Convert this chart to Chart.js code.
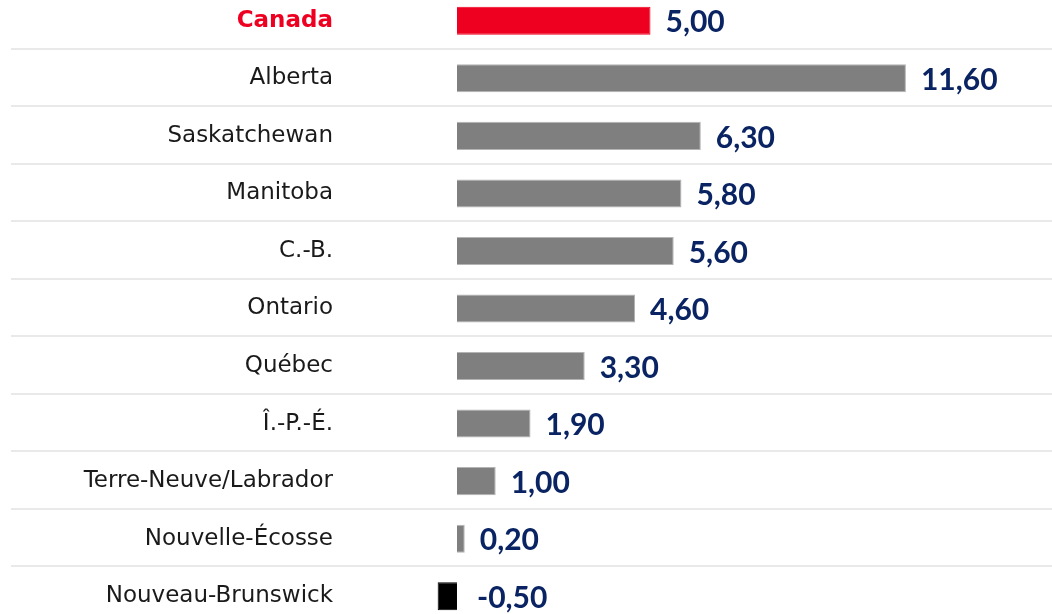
<!DOCTYPE html>
<html>
<head>
<meta charset="utf-8">
<script src="https://cdn.jsdelivr.net/npm/chart.js@4/dist/chart.umd.min.js"></script>
<style>
    html, body { margin: 0; padding: 0; background: #fff; overflow: hidden; }
    #wrap { position: absolute; left: 0; top: -8px; width: 1052px; height: 633px; }
</style>
</head>
<body>
<div id="wrap"><canvas id="chart"></canvas></div>
<script>
// Categories and values
const provinces = ['Canada', 'Alberta', 'Saskatchewan', 'Manitoba', 'C.-B.', 'Ontario', 'Québec',
    'Î.-P.-É.', 'Terre-Neuve/Labrador', 'Nouvelle-Écosse', 'Nouveau-Brunswick'];
const growth = [5.00, 11.60, 6.30, 5.80, 5.60, 4.60, 3.30, 1.90, 1.00, 0.20, -0.50];

const RED = '#ee0020';
const GREY = '#7f7f7f';
const NAVY = '#0a2463';

function barColor(v, i) {
    if (i === 0) return RED;
    return v < 0 ? '#000000' : GREY;
}

// light separators running across the whole width, between categories
const separators = {
    id: 'separators',
    beforeDatasetsDraw(chart) {
        const y = chart.scales.y;
        const ctx = chart.ctx;
        ctx.save();
        ctx.strokeStyle = '#e9e9e9';
        ctx.lineWidth = 2;
        for (let i = 0; i < provinces.length - 1; i++) {
            const py = Math.round((y.getPixelForValue(i) + y.getPixelForValue(i + 1)) / 2) - 1;
            ctx.beginPath();
            ctx.moveTo(11, py);
            ctx.lineTo(chart.width, py);
            ctx.stroke();
        }
        ctx.restore();
    }
};

// value labels, decimal comma
const valueLabels = {
    id: 'valueLabels',
    afterDatasetsDraw(chart) {
        const ctx = chart.ctx;
        const meta = chart.getDatasetMeta(0);
        ctx.save();
        ctx.fillStyle = NAVY;
        ctx.font = "bold 30px Lato, 'DejaVu Sans', sans-serif";
        ctx.textAlign = 'left';
        ctx.textBaseline = 'middle';
        meta.data.forEach((bar, i) => {
            const v = growth[i];
            const x = v >= 0 ? bar.x + 15 : bar.base + 20;
            ctx.fillText(v.toFixed(2).replace('.', ','), x, bar.y + 2);
        });
        ctx.restore();
    }
};

new Chart(document.getElementById('chart'), {
    type: 'bar',
    data: {
        labels: provinces,
        datasets: [{
            data: growth,
            backgroundColor: growth.map(barColor),
            borderColor: growth.map((v, i) => (i === 0 || v < 0) ? barColor(v, i) : '#b4b4b4'),
            borderWidth: 1,
            categoryPercentage: 1,
            barPercentage: 0.487
        }]
    },
    options: {
        indexAxis: 'y',
        responsive: true,
        maintainAspectRatio: false,
        animation: false,
        layout: { padding: 0 },
        plugins: {
            legend: { display: false },
            tooltip: { enabled: false }
        },
        scales: {
            x: {
                display: false,
                min: -2.894,
                max: 15.375
            },
            y: {
                afterFit(scale) {
                    scale.width = 345;
                    scale.paddingTop = 0;
                    scale.paddingBottom = 0;
                },
                grid: { display: false, drawTicks: false },
                border: { display: false },
                ticks: {
                    padding: 12,
                    color: (c) => c.index === 0 ? RED : '#1a1a1a',
                    font: (c) => ({
                        family: "'DejaVu Sans', sans-serif",
                        size: 23,
                        weight: c.index === 0 ? 'bold' : 'normal'
                    })
                }
            }
        }
    },
    plugins: [separators, valueLabels]
});
</script>
</body>
</html>
